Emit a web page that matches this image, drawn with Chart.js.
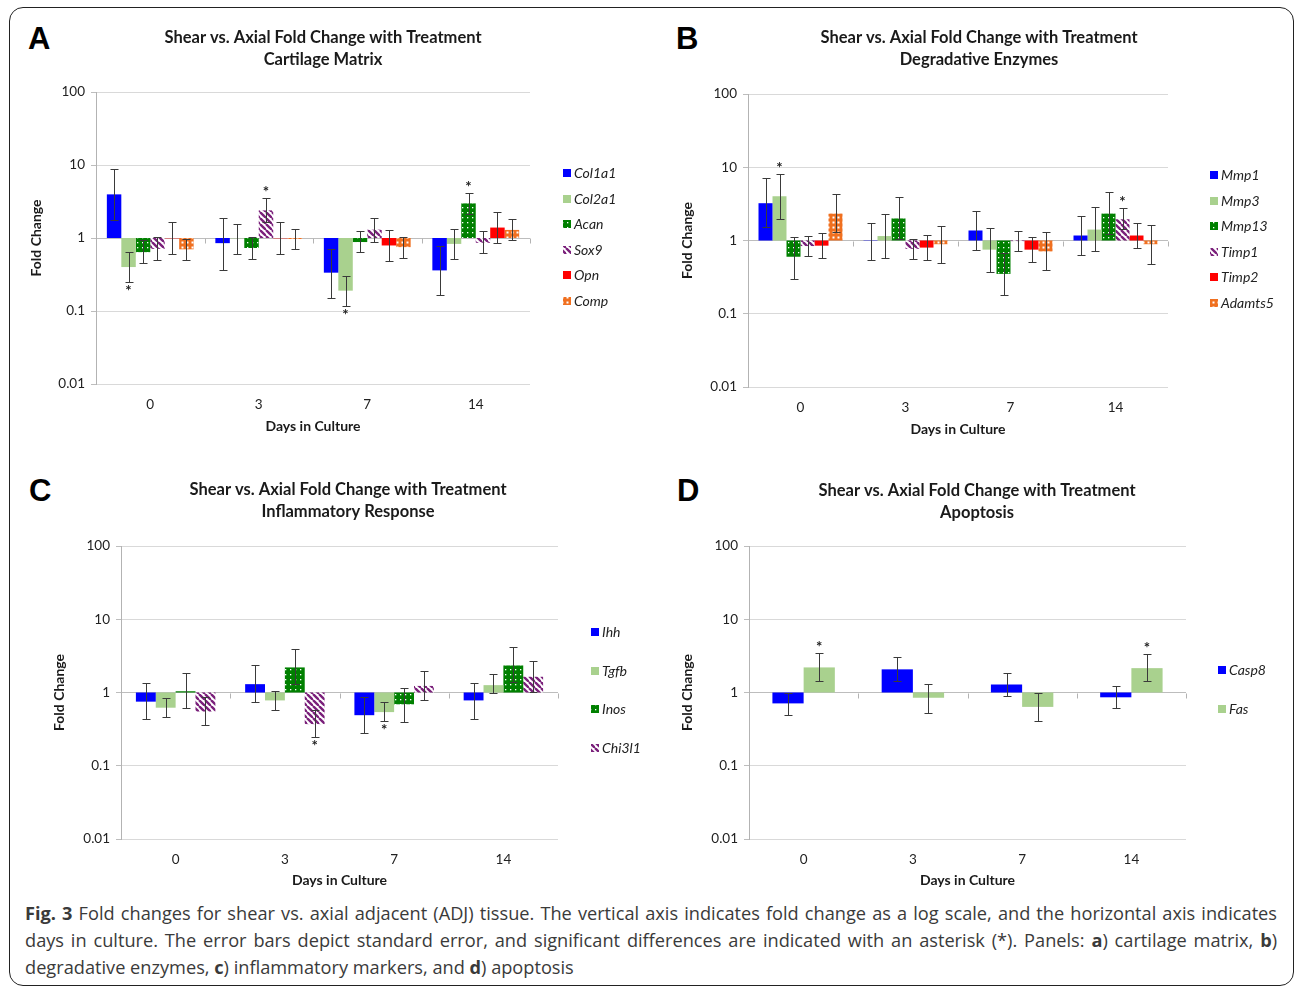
<!DOCTYPE html>
<html>
<head>
<meta charset="utf-8">
<script src="https://cdn.jsdelivr.net/npm/chart.js@4.4.0/dist/chart.umd.min.js"></script>
<style>
  body { margin: 0; background: #fff; width: 1295px; height: 986px; overflow: hidden; position: relative; font-family: Lato, sans-serif; }
  .frame { position: absolute; left: 9px; top: 7px; width: 1285px; height: 979px; border: 1.5px solid #222; border-radius: 14px; box-sizing: border-box; }
  canvas { position: absolute; }
  .letter { position: absolute; top: 23px; font: bold 31px "Liberation Sans", Arial, sans-serif; line-height: 1; color: #000; }
  .caption { position: absolute; left: 25px; top: 900px; width: 1252px; font: 18.2px "Open Sans", sans-serif; color: #3a3a3a; }
  .caption div { height: 27px; line-height: 27px; text-align: justify; text-align-last: justify; white-space: nowrap; }
  .caption div.last { text-align-last: left; }
</style>
</head>
<body>
<div class="frame"></div>
<div class="letter" style="left:28px">A</div>
<div class="letter" style="left:676px">B</div>
<div class="letter" style="left:29px;top:475px">C</div>
<div class="letter" style="left:677px;top:475px">D</div>

<canvas id="chartA" width="606" height="421" style="left:20px;top:20px"></canvas>
<canvas id="chartB" width="616" height="424" style="left:671px;top:20px"></canvas>
<canvas id="chartC" width="610" height="423" style="left:43px;top:472px"></canvas>
<canvas id="chartD" width="612" height="423" style="left:671px;top:472px"></canvas>

<div class="caption">
  <div><b>Fig. 3</b> Fold changes for shear vs. axial adjacent (ADJ) tissue. The vertical axis indicates fold change as a log scale, and the horizontal axis indicates</div>
  <div>days in culture. The error bars depict standard error, and significant differences are indicated with an asterisk (*). Panels: <b>a</b>) cartilage matrix, <b>b</b>)</div>
  <div class="last">degradative enzymes, <b>c</b>) inflammatory markers, and <b>d</b>) apoptosis</div>
</div>

<script>
const days = ["0", "3", "7", "14"]
const yTicks = [0.01, 0.1, 1, 10, 100]

// A - cartilage matrix, rows = genes, columns = days
const genesA = ["Col1a1", "Col2a1", "Acan", "Sox9", "Opn", "Comp"]
const foldA = [
  [3.96, 0.85, 0.335, 0.36],
  [0.40, 0.99, 0.19, 0.83],
  [0.64, 0.73, 0.88, 2.98],
  [0.71, 2.39, 1.30, 0.86],
  [0.99, 0.99, 0.79, 1.39],
  [0.70, 0.97, 0.75, 1.29],
]
const lowA = [
  [1.75, 0.37, 0.15, 0.166],
  [0.25, 0.60, 0.118, 0.51],
  [0.45, 0.51, 0.64, 2.13],
  [0.50, 1.64, 0.89, 0.62],
  [0.60, 0.60, 0.48, 0.85],
  [0.50, 0.70, 0.54, 0.94],
]
const highA = [
  [8.8, 1.9, 0.71, 0.785],
  [0.64, 1.57, 0.30, 1.31],
  [0.95, 1.02, 1.23, 4.18],
  [1.02, 3.57, 1.86, 1.23],
  [1.64, 1.64, 1.29, 2.3],
  [0.97, 1.31, 1.04, 1.82],
]
const starsA = [[1, 0], [3, 1], [1, 2], [2, 3]] // [gene, day]

// B - degradative enzymes
const genesB = ["Mmp1", "Mmp3", "Mmp13", "Timp1", "Timp2", "Adamts5"]
const foldB = [
  [3.23, 0.99, 1.37, 1.17],
  [4.02, 1.15, 0.75, 1.41],
  [0.60, 2.0, 0.35, 2.33],
  [0.84, 0.77, 0.98, 1.95],
  [0.85, 0.80, 0.75, 1.17],
  [2.33, 0.89, 0.71, 0.89],
]
const lowB = [
  [1.52, 0.54, 0.75, 0.64],
  [1.95, 0.57, 0.37, 0.71],
  [0.30, 1.04, 0.178, 1.23],
  [0.61, 0.56, 0.71, 1.43],
  [0.57, 0.54, 0.51, 0.79],
  [1.31, 0.50, 0.39, 0.48],
]
const highB = [
  [7.2, 1.76, 2.49, 2.19],
  [8.2, 2.33, 1.50, 2.88],
  [1.13, 3.94, 0.68, 4.56],
  [1.17, 1.06, 1.35, 2.76],
  [1.25, 1.19, 1.11, 1.72],
  [4.28, 1.58, 1.31, 1.62],
]
const starsB = [[1, 0], [3, 3]]

// C - inflammatory response
const genesC = ["Ihh", "Tgfb", "Inos", "Chi3l1"]
const foldC = [
  [0.75, 1.30, 0.49, 0.78],
  [0.62, 0.78, 0.54, 1.26],
  [1.04, 2.2, 0.69, 2.34],
  [0.55, 0.37, 1.23, 1.64],
]
const lowC = [
  [0.43, 0.74, 0.28, 0.43],
  [0.46, 0.58, 0.41, 0.97],
  [0.62, 1.29, 0.40, 1.41],
  [0.36, 0.245, 0.79, 1.03],
]
const highC = [
  [1.33, 2.34, 0.88, 1.36],
  [0.84, 1.04, 0.74, 1.78],
  [1.82, 3.88, 1.17, 4.18],
  [0.86, 0.58, 1.95, 2.66],
]
const starsC = [[3, 1], [1, 2]]

// D - apoptosis
const genesD = ["Casp8", "Fas"]
const foldD = [
  [0.71, 2.07, 1.29, 0.86],
  [2.2, 0.845, 0.636, 2.15],
]
const lowD = [
  [0.49, 1.43, 0.90, 0.62],
  [1.44, 0.53, 0.41, 1.43],
]
const highD = [
  [1.0, 3.05, 1.84, 1.22],
  [3.49, 1.29, 0.99, 3.39],
]
const starsD = [[1, 0], [1, 3]]

Chart.defaults.font.family = "Lato"
Chart.defaults.color = "#222"

// Excel-like pattern fills
const patCtx = document.createElement("canvas").getContext("2d")
function tile(size, draw) {
  const c = document.createElement("canvas")
  c.width = c.height = size
  draw(c.getContext("2d"), size)
  return patCtx.createPattern(c, "repeat")
}
const fills = {
  blue: "#0000ff",
  ltgreen: "#a9d18e",
  red: "#ff0000",
  dots: tile(5, (g, s) => {
    g.fillStyle = "#008000"
    g.fillRect(0, 0, s, s)
    g.fillStyle = "#ffffff"
    g.fillRect(2, 2, 1.3, 1.3)
  }),
  stripes: tile(6, (g, s) => {
    g.fillStyle = "#ffffff"
    g.fillRect(0, 0, s, s)
    g.strokeStyle = "#7a1f7a"
    g.lineWidth = 2.4
    for (let k = -1; k <= 1; k++) {
      g.beginPath()
      g.moveTo(k * s, 0)
      g.lineTo(k * s + s, s)
      g.stroke()
    }
  }),
  orange: tile(5, (g, s) => {
    g.fillStyle = "#f07020"
    g.fillRect(0, 0, s, s)
    g.fillStyle = "#ffffff"
    g.fillRect(1.5, 1.5, 2, 2)
  }),
}
const edges = { blue: "#0000ff", ltgreen: "#a9d18e", red: "#ff0000", dots: "#008000", stripes: "#7a1f7a", orange: "#f07020" }

// Error bars + significance asterisks
const errorBars = {
  id: "errorBars",
  afterDatasetsDraw(chart, args, opts) {
    const { ctx } = chart
    const y = chart.scales.y
    ctx.save()
    ctx.strokeStyle = "#3a3a3a"
    ctx.lineWidth = 1
    chart.data.datasets.forEach((ds, i) => {
      chart.getDatasetMeta(i).data.forEach((bar, j) => {
        const x = Math.round(bar.x) + 0.5
        const y1 = Math.round(y.getPixelForValue(ds.high[j])) + 0.5
        const y2 = Math.round(y.getPixelForValue(ds.low[j])) + 0.5
        ctx.beginPath()
        ctx.moveTo(x, y1)
        ctx.lineTo(x, y2)
        ctx.moveTo(x - 4, y1)
        ctx.lineTo(x + 4, y1)
        ctx.moveTo(x - 4, y2)
        ctx.lineTo(x + 4, y2)
        ctx.stroke()
      })
    })
    ctx.fillStyle = "#222"
    ctx.font = "bold 15px Lato"
    ctx.textAlign = "center"
    ctx.textBaseline = "alphabetic"
    opts.stars.forEach(([i, j]) => {
      const ds = chart.data.datasets[i]
      const bar = chart.getDatasetMeta(i).data[j]
      if (ds.data[j][1] >= 1) {
        ctx.fillText("*", bar.x, y.getPixelForValue(ds.high[j]) - 1)
      } else {
        ctx.fillText("*", bar.x, y.getPixelForValue(ds.low[j]) + 14)
      }
    })
    ctx.restore()
  },
}

// Category tick marks on the horizontal axis, which crosses at 1
const axisOne = {
  id: "axisOne",
  beforeDatasetsDraw(chart) {
    const { ctx, chartArea: a } = chart
    const y1 = Math.round(chart.scales.y.getPixelForValue(1)) + 0.5
    const w = (a.right - a.left) / days.length
    ctx.save()
    ctx.strokeStyle = "#b3b3b3"
    ctx.lineWidth = 1
    ctx.beginPath()
    for (let k = 1; k <= days.length; k++) {
      const xx = Math.round(a.left + k * w) + 0.5
      ctx.moveTo(xx, y1)
      ctx.lineTo(xx, y1 + 5)
    }
    ctx.stroke()
    ctx.restore()
  },
}

// Legend at the right side
const sideLegend = {
  id: "sideLegend",
  afterDraw(chart, args, o) {
    const { ctx } = chart
    ctx.save()
    ctx.font = "italic 14px Lato"
    ctx.textBaseline = "middle"
    chart.data.datasets.forEach((ds, i) => {
      const yy = Math.round(o.top + i * o.gap)
      ctx.fillStyle = ds.backgroundColor
      ctx.fillRect(o.left, yy - 4, 8, 8)
      ctx.fillStyle = "#222"
      ctx.fillText(ds.label, o.left + 11, yy)
    })
    ctx.restore()
  },
}

function makePanel(id, subtitle, genes, fold, low, high, stars, styles, box) {
  const n = genes.length
  return new Chart(document.getElementById(id), {
    type: "bar",
    data: {
      labels: days,
      datasets: genes.map((g, i) => ({
        label: g,
        data: fold[i].map((v) => [1, v]),
        low: low[i],
        high: high[i],
        yAxisID: "y",
        backgroundColor: fills[styles[i]],
        borderColor: edges[styles[i]],
        borderWidth: 0,
        borderSkipped: false,
      })),
    },
    options: {
      responsive: false,
      animation: false,
      events: [],
      categoryPercentage: n / (n + 1.5),
      barPercentage: 1,
      layout: { padding: 0 },
      scales: {
        x: {
          grid: { display: false },
          border: { display: false },
          ticks: { color: "#222", font: { size: 13.5 }, padding: 5 },
          title: {
            display: true,
            text: "Days in Culture",
            color: "#1a1a1a",
            font: { size: 14, weight: "bold" },
            padding: { top: 0, bottom: 6 },
          },
          afterFit: (s) => { s.height = box.bottom },
        },
        y: {
          type: "logarithmic",
          min: 0.01,
          max: 100,
          afterBuildTicks: (s) => { s.ticks = yTicks.map((v) => ({ value: v })) },
          ticks: { callback: (v) => String(v), color: "#222", font: { size: 13.5 }, padding: 6 },
          grid: {
            color: (c) => (c.tick && c.tick.value === 1 ? "#bdbdbd" : "#d9d9d9"),
            tickLength: 5,
            tickColor: "#bdbdbd",
          },
          border: { display: true, color: "#b3b3b3" },
          title: {
            display: true,
            text: "Fold Change",
            color: "#1a1a1a",
            font: { size: 14, weight: "bold" },
            padding: { top: 8, bottom: 0 },
          },
          afterFit: (s) => { s.width = box.left },
        },
        pad: {
          type: "linear",
          position: "right",
          grid: { display: false },
          border: { display: false },
          ticks: { display: false },
          afterFit: (s) => { s.width = box.right },
        },
      },
      plugins: {
        legend: { display: false },
        tooltip: { enabled: false },
        title: {
          display: true,
          text: ["Shear vs. Axial Fold Change with Treatment", subtitle],
          color: "#1a1a1a",
          font: { size: 16.5, weight: "bold", lineHeight: "22px" },
          padding: { top: box.titleTop, bottom: box.titleBottom },
        },
        errorBars: { stars },
        sideLegend: box.legend,
      },
    },
    plugins: [axisOne, errorBars, sideLegend],
  })
}

makePanel("chartA", "Cartilage Matrix", genesA, foldA, lowA, highA, starsA,
  ["blue", "ltgreen", "dots", "stripes", "red", "orange"],
  { left: 76, right: 96, bottom: 57, titleTop: 7, titleBottom: 21, legend: { left: 543, top: 153, gap: 25.6 } })

makePanel("chartB", "Degradative Enzymes", genesB, foldB, lowB, highB, starsB,
  ["blue", "ltgreen", "dots", "stripes", "red", "orange"],
  { left: 77, right: 119, bottom: 57, titleTop: 7, titleBottom: 23, legend: { left: 539, top: 155, gap: 25.6 } })

makePanel("chartC", "Inflammatory Response", genesC, foldC, lowC, highC, starsC,
  ["blue", "ltgreen", "dots", "stripes"],
  { left: 78, right: 95, bottom: 56, titleTop: 7, titleBottom: 23, legend: { left: 548, top: 160, gap: 38.7 } })

makePanel("chartD", "Apoptosis", genesD, foldD, lowD, highD, starsD,
  ["blue", "ltgreen"],
  { left: 78, right: 97, bottom: 56, titleTop: 8, titleBottom: 22, legend: { left: 547, top: 198, gap: 39 } })
</script>
</body>
</html>
